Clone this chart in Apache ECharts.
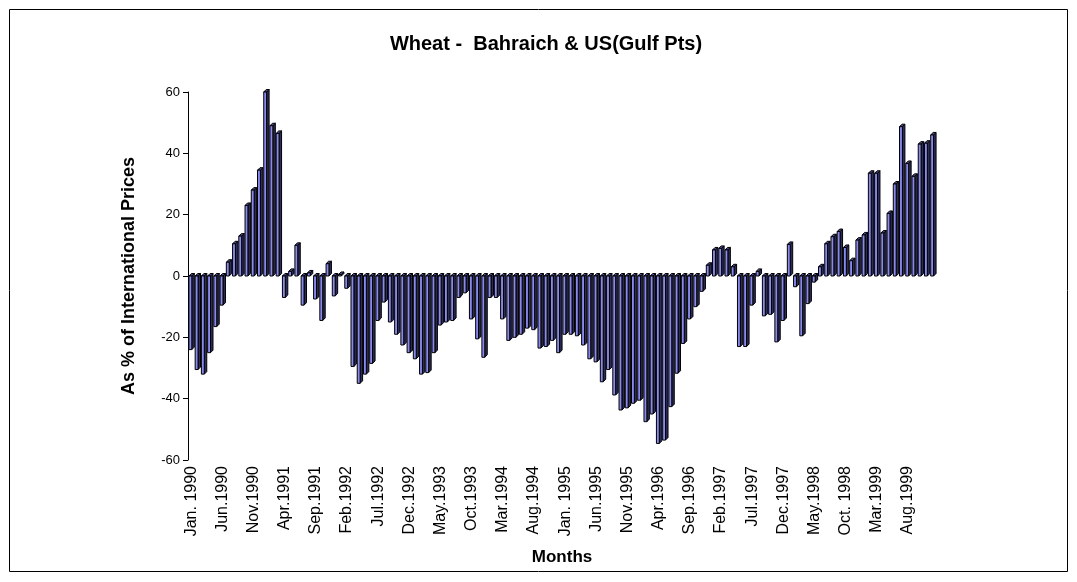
<!DOCTYPE html>
<html>
<head>
<meta charset="utf-8">
<script src="https://cdn.jsdelivr.net/npm/echarts@6/dist/echarts.min.js"></script>
<style>
html,body{margin:0;padding:0;background:#fff;}
#chart{width:1077px;height:582px;}
</style>
</head>
<body>
<div id="chart"></div>
<script>
// Monthly values Jan 1990 - Dec 1999 (120 months), % of international prices
var values = [
  -24, -30.5, -32, -25, -16.5, -9.5, 4.5, 10.5, 13, 23, 28, 34.5,
  60, 49, 46.5, -7, 1.5, 10, -9.5, 1, -7.5, -14.5, 4, -6.5,
  0.5, -4, -29.5, -35, -32, -28.5, -14.5, -8.5, -15, -19, -22.5, -25,
  -27, -32, -31.5, -25, -16, -15, -14.5, -7, -5.5, -14, -20.5, -26.5,
  -7, -7, -14, -21, -20, -19, -17, -17.5, -23.5, -23, -21, -25,
  -19, -19, -19.5, -22.5, -27, -28, -34.5, -30.5, -38.8, -43.7, -43, -41.5,
  -40.5, -47.5, -45, -54.6, -53.5, -42.6, -31.7, -22, -14, -10, -5, 3.5,
  8.5, 9, 8.5, 3, -23, -23, -9.5, 1.5, -13, -12.5, -21.5, -14.5,
  10.3, -3.5, -19.5, -9, -2, 3, 10.5, 12.8, 14.5, 9.3, 5, 11.7,
  13.4, 33.5, 33.5, 14, 20.4, 30, 48.7, 36.7, 32.5, 43, 43.3, 46
];
// Tick labels shown every 5 months
var tickLabels = [
  "Jan. 1990","Jun.1990","Nov.1990","Apr.1991","Sep.1991","Feb.1992",
  "Jul.1992","Dec.1992","May.1993","Oct.1993","Mar.1994","Aug.1994",
  "Jan. 1995","Jun.1995","Nov.1995","Apr.1996","Sep.1996","Feb.1997",
  "Jul.1997","Dec.1997","May.1998","Oct. 1998","Mar.1999","Aug.1999"
];
var monthNames = ["Jan","Feb","Mar","Apr","May","Jun","Jul","Aug","Sep","Oct","Nov","Dec"];
var startYear = 1990;
var labelStep = 5;
var yTicks = { min: -60, max: 60, interval: 20 };

var categories = values.map(function (v, i) {
  return monthNames[i % 12] + "." + (startYear + Math.floor(i / 12));
});
var seriesData = values.map(function (v, i) { return [i, v]; });

var FONT = '"Liberation Sans", Arial, sans-serif';
var chart = echarts.init(document.getElementById('chart'), null, { renderer: 'canvas' });

function renderItem(params, api) {
  var idx = api.value(0), v = api.value(1);
  var p0 = api.coord([idx, 0]);
  var p1 = api.coord([idx, v]);
  var bw = api.size([1, 0])[0];
  var fw = bw * 0.46, d = bw * 0.4;
  var left = p0[0] - fw / 2 - d / 2 + 0.5;
  var right = left + fw;
  var yTop = Math.min(p0[1], p1[1]);
  var yBot = Math.max(p0[1], p1[1]);
  var stroke = { stroke: '#000', lineWidth: 1 };
  return {
    type: 'group',
    children: [
      { type: 'polygon', shape: { points: [[right, yTop], [right + d, yTop - d], [right + d, yBot - d], [right, yBot]] },
        style: Object.assign({ fill: '#2c2c5a' }, stroke) },
      { type: 'polygon', shape: { points: [[left, yTop], [left + d, yTop - d], [right + d, yTop - d], [right, yTop]] },
        style: Object.assign({ fill: '#4a4a96' }, stroke) },
      { type: 'rect', shape: { x: left, y: yTop, width: fw, height: yBot - yTop },
        style: Object.assign({ fill: '#8a8aee' }, stroke) }
    ]
  };
}

chart.setOption({
  animation: false,
  backgroundColor: '#fff',
  title: {
    text: 'Wheat -  Bahraich & US(Gulf Pts)',
    left: 541, top: 29, textAlign: 'center',
    textStyle: { fontFamily: FONT, fontSize: 20, fontWeight: 'bold', color: '#000' }
  },
  graphic: [{
    type: 'rect', shape: { x: 9.5, y: 9.5, width: 1058, height: 562 },
    style: { fill: null, stroke: '#000', lineWidth: 1 }, silent: true, z: -1
  }],
  grid: { left: 188, top: 92, width: 748, height: 368, containLabel: false },
  xAxis: {
    type: 'category',
    data: categories,
    name: 'Months',
    nameLocation: 'middle',
    nameGap: 89,
    nameTextStyle: { fontFamily: FONT, fontSize: 17, fontWeight: 'bold', color: '#000' },
    axisLine: { show: false },
    axisTick: { show: false },
    splitLine: { show: false },
    axisLabel: {
      interval: 0,
      rotate: 90,
      margin: 6,
      fontFamily: FONT, fontSize: 16, color: '#000',
      formatter: function (val, i) {
        return (i % labelStep === 0 && tickLabels[i / labelStep]) ? tickLabels[i / labelStep] : '';
      }
    }
  },
  yAxis: {
    type: 'value',
    min: yTicks.min, max: yTicks.max, interval: yTicks.interval,
    name: 'As % of International Prices',
    nameLocation: 'middle',
    nameGap: 50,
    nameTextStyle: { fontFamily: FONT, fontSize: 18, fontWeight: 'bold', color: '#000' },
    axisLine: { show: true, lineStyle: { color: '#000', width: 1 } },
    axisTick: { show: true, length: 5, lineStyle: { color: '#000' } },
    splitLine: { show: false },
    axisLabel: { fontFamily: FONT, fontSize: 13, color: '#000', margin: 8 }
  },
  series: [{
    type: 'custom',
    renderItem: renderItem,
    encode: { x: 0, y: 1 },
    data: seriesData,
    clip: false
  }]
});
</script>
</body>
</html>
